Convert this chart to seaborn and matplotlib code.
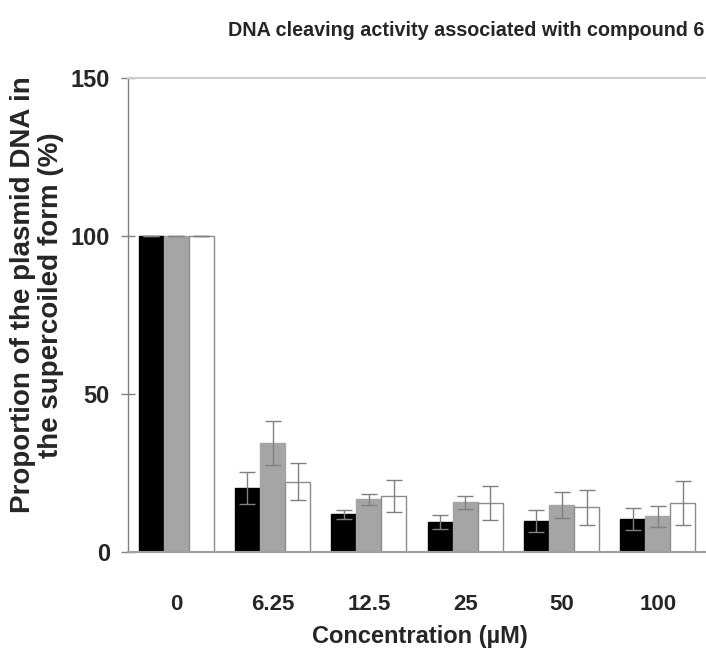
import matplotlib
matplotlib.use("Agg")
import matplotlib.pyplot as plt
from matplotlib import font_manager
import seaborn as sns
import pandas as pd
import numpy as np

conc = ["0", "6.25", "12.5", "25", "50", "100"]
series = ["Series 1", "Series 2", "Series 3"]
s1 = [100, 20.3, 11.9, 9.6, 9.7, 10.5]
s1_err = [0, 5.0, 1.4, 2.2, 3.5, 3.5]
s2 = [100, 34.6, 16.7, 15.7, 14.9, 11.3]
s2_err = [0, 7.0, 1.8, 2.0, 4.0, 3.4]
s3 = [100, 22.3, 17.7, 15.5, 14.1, 15.5]
s3_err = [0, 5.8, 5.0, 5.5, 5.5, 7.0]

title = "DNA cleaving activity associated with compound 6"
xlabel = "Concentration (µM)"
ylabel = "Proportion of the plasmid DNA in\nthe supercoiled form (%)"

sns.set_theme(style="white")
names = {f.name for f in font_manager.fontManager.ttflist}
narrow = None
for cand in ["Liberation Sans Narrow", "DejaVu Sans Condensed"]:
    if cand in names:
        narrow = cand
        break
base = "Liberation Sans"
plt.rcParams["font.family"] = [base, "DejaVu Sans"]
tfam = [narrow, base, "DejaVu Sans"] if narrow else [base, "DejaVu Sans"]
tsize = 15 if narrow else 14.2

df = pd.DataFrame({
    "conc": conc * 3,
    "series": np.repeat(series, len(conc)),
    "value": s1 + s2 + s3,
    "err": s1_err + s2_err + s3_err,
})

fig = plt.figure(figsize=(7.06, 6.62), dpi=100)
ax = fig.add_axes([128 / 706, 1 - 552 / 662, 1 - 128 / 706, (552 - 78) / 662])

sns.barplot(data=df, x="conc", y="value", hue="series", order=conc,
            hue_order=series, palette=["#000000", "#a5a5a5", "#ffffff"],
            width=0.78, gap=0, legend=False, errorbar=None, ax=ax,
            saturation=1)

edgecols = ["#000000", "#a5a5a5", "#8c8c8c"]
errs = [s1_err, s2_err, s3_err]
vals = [s1, s2, s3]
bar_containers = list(ax.containers)
for i, cont in enumerate(bar_containers):
    xs = []
    for p in cont.patches:
        p.set_edgecolor(edgecols[i])
        p.set_linewidth(1.0)
        xs.append(p.get_x() + p.get_width() / 2)
    ax.errorbar(xs, vals[i], yerr=errs[i], fmt="none", ecolor="#808080",
                elinewidth=1.0, capsize=6, capthick=1.0, zorder=5)

ax.set_xlim(-0.5, 5.5)
ax.set_ylim(0, 150)
ax.set_yticks([0, 50, 100, 150])
ax.set_xlabel("")
ax.set_ylabel("")
ax.spines["right"].set_visible(False)
ax.spines["top"].set_color("#cfcfcf")
ax.spines["top"].set_linewidth(1.5)
ax.spines["left"].set_color("#808080")
ax.spines["bottom"].set_color("#a0a0a0")
ax.spines["left"].set_linewidth(1.0)
ax.spines["bottom"].set_linewidth(1.5)
ax.tick_params(axis="y", direction="inout", length=10, width=1, color="#808080",
               left=True, labelsize=17, pad=8)
ax.tick_params(axis="x", length=0, labelsize=16, pad=30)
for t in ax.get_xticklabels() + ax.get_yticklabels():
    t.set_fontweight("bold")

fig.text(466 / 706, 1 - 30 / 662, title, ha="center", va="center",
         fontsize=tsize, fontweight="bold", family=tfam)
fig.text(420 / 706, 1 - 637 / 662, xlabel, ha="center", va="center",
         fontsize=17, fontweight="bold")
fig.text(37 / 706, 1 - 295 / 662, ylabel, ha="center", va="center",
         rotation=90, fontsize=20, fontweight="bold",
         family=["Liberation Sans", "DejaVu Sans"], linespacing=1.1,
         multialignment="center")

fig.savefig("out.png", dpi=100)
